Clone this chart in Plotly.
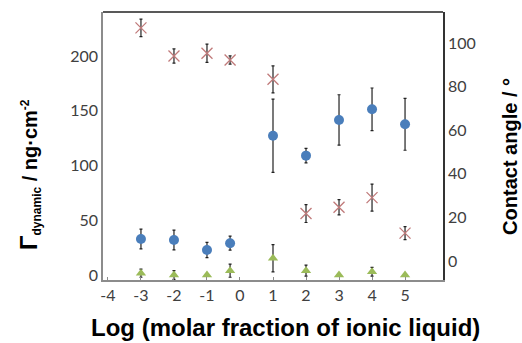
import plotly.graph_objects as go

# x positions: log (molar fraction of ionic liquid)
x_vals = [-3, -2, -1, -0.3, 1, 2, 3, 4, 5]

# Gamma dynamic (ng/cm^2), left axis
gamma_dyn = [32.9, 32.0, 22.8, 29.0, 127.2, 109.0, 141.6, 151.3, 137.6]
gamma_dyn_err = [9.0, 9.0, 7.0, 6.4, 33.5, 6.7, 23.0, 19.5, 23.7]

# second (near-zero) series, left axis
gamma_low = [1.6, 0.0, 0.0, 3.9, 15.3, 3.9, 0.0, 3.0, 0.0]
gamma_low_err = [3.7, 4.0, 1.0, 6.0, 12.5, 5.0, 1.0, 4.0, 1.0]

# contact angle (deg), right axis
contact = [107.0, 94.1, 95.4, 92.3, 83.4, 21.8, 24.7, 29.1, 12.8]
contact_err = [4.0, 3.3, 4.2, 1.9, 6.2, 4.1, 3.5, 6.2, 3.0]

x_ticks = [-4, -3, -2, -1, 0, 1, 2, 3, 4, 5]
left_ticks = [0, 50, 100, 150, 200]
right_ticks = [0, 20, 40, 60, 80, 100]

x_title = "<b>Log (molar fraction of ionic liquid)</b>"
y_title = ("<b><span style=\"font-size:24px\">Γ</span><sub><span style=\"font-size:12px\">dynamic</span></sub>"
           " / ng·cm<sup><span style=\"font-size:12px\">-2</span></sup></b>")
y2_title = "<b>Contact angle / °</b>"

tick_font = dict(family="Lato, Open Sans, sans-serif", size=16, color="#404040")
x_title_font = dict(family="Liberation Sans, Arial, sans-serif", size=24, color="#000000")
y_title_font = dict(family="Liberation Sans, Arial, sans-serif", size=20, color="#000000")
y2_title_font = dict(family="Liberation Sans, Arial, sans-serif", size=20, color="#000000")

fig = go.Figure()

fig.add_trace(go.Scatter(
    x=x_vals, y=gamma_low, mode="markers",
    marker=dict(symbol="triangle-up", size=9, color="#9bbb59"),
    error_y=dict(type="data", array=gamma_low_err, color="#222222", thickness=1.2, width=1.5),
    showlegend=False))

fig.add_trace(go.Scatter(
    x=x_vals, y=gamma_dyn, mode="markers",
    marker=dict(symbol="circle", size=10, color="#4a7ebb"),
    error_y=dict(type="data", array=gamma_dyn_err, color="#222222", thickness=1.2, width=1.5),
    showlegend=False))

fig.add_trace(go.Scatter(
    x=x_vals, y=contact, mode="markers", yaxis="y2",
    marker=dict(symbol="x-thin-open", size=11, color="#c07a7a", line=dict(color="#c07a7a", width=1.3)),
    error_y=dict(type="data", array=contact_err, color="#222222", thickness=1.2, width=1.5),
    showlegend=False))

fig.update_layout(
    width=522, height=343,
    margin=dict(l=103, r=79, t=12, b=63),
    paper_bgcolor="white", plot_bgcolor="white",
    xaxis=dict(
        range=[-4.15, 6.15], tickvals=x_ticks, ticktext=[str(v) for v in x_ticks],
        showgrid=False, zeroline=False, showline=True, linecolor="#8c8c8c", linewidth=1.5,
        ticks="inside", ticklen=3, tickcolor="#8c8c8c", tickfont=tick_font,
    ),
    yaxis=dict(
        range=[-4.6, 240.2], tickvals=left_ticks, showgrid=False, zeroline=False,
        showline=True, linecolor="#8c8c8c", linewidth=1.5, ticks="", tickfont=tick_font,
    ),
    yaxis2=dict(
        range=[-8.7, 114.3], tickvals=right_ticks, overlaying="y", side="right",
        showgrid=False, zeroline=False, showline=True, linecolor="#333333", linewidth=1.5,
        ticks="", tickfont=tick_font,
    ),
    shapes=[dict(type="line", xref="paper", yref="paper", x0=0, x1=1, y0=1, y1=1,
                 line=dict(color="#222222", width=1.5))],
    annotations=[
        dict(text=x_title, xref="paper", yref="paper", x=0.537, y=-0.179,
             xanchor="center", yanchor="middle", showarrow=False, font=x_title_font),
        dict(text=y_title, xref="paper", yref="paper", x=-0.2147, y=0.392, textangle=-90,
             xanchor="center", yanchor="middle", showarrow=False, font=y_title_font),
        dict(text=y2_title, xref="paper", yref="paper", x=1.197, y=0.463, textangle=-90,
             xanchor="center", yanchor="middle", showarrow=False, font=y2_title_font),
    ],
)

fig.write_html("out.html")
